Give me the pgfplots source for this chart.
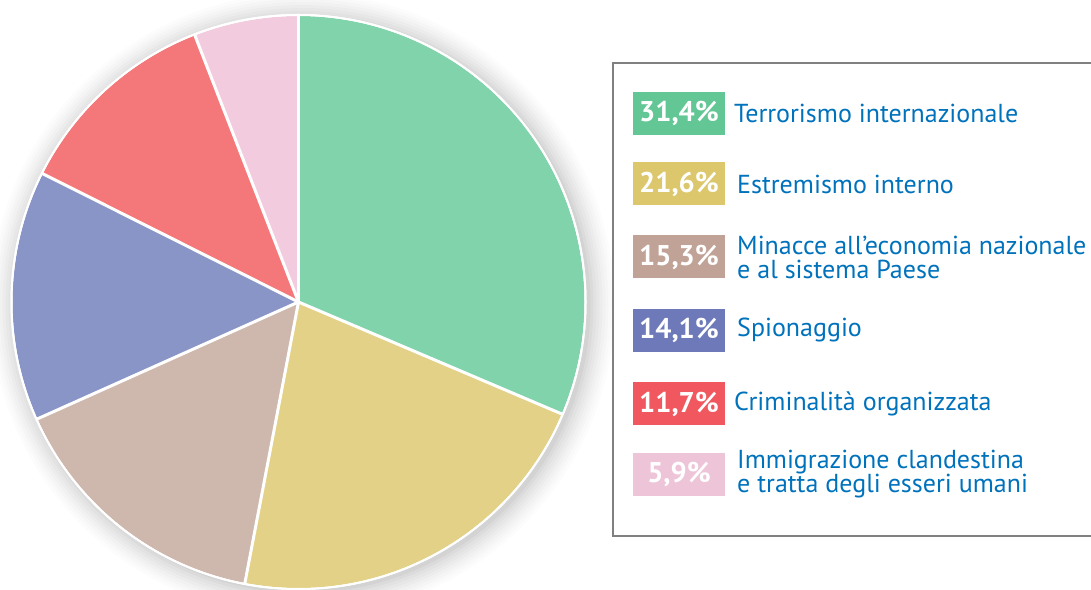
\documentclass[border=0pt]{standalone}
\usepackage{pgfplots}
\pgfplotsset{compat=1.18}
\usepackage{fontspec}
\setmainfont{PT Sans}
\definecolor{pA}{RGB}{128,211,170}
\definecolor{pB}{RGB}{226,209,134}
\definecolor{pC}{RGB}{206,183,173}
\definecolor{pD}{RGB}{137,149,198}
\definecolor{pE}{RGB}{244,120,122}
\definecolor{pF}{RGB}{242,204,222}
\definecolor{lA}{RGB}{98,199,148}
\definecolor{lB}{RGB}{220,199,108}
\definecolor{lC}{RGB}{192,162,151}
\definecolor{lD}{RGB}{109,121,184}
\definecolor{lE}{RGB}{240,87,94}
\definecolor{lF}{RGB}{238,196,216}
\definecolor{txt}{RGB}{0,114,188}
% values (%)
\def\va{31.4}\def\vb{21.6}\def\vc{15.3}\def\vd{14.1}\def\ve{11.7}\def\vf{5.9}
\pgfmathsetmacro{\aA}{90}
\pgfmathsetmacro{\aB}{90-3.6*\va}
\pgfmathsetmacro{\aC}{90-3.6*(\va+\vb)}
\pgfmathsetmacro{\aD}{90-3.6*(\va+\vb+\vc)}
\pgfmathsetmacro{\aE}{90-3.6*(\va+\vb+\vc+\vd)}
\pgfmathsetmacro{\aF}{90-3.6*(\va+\vb+\vc+\vd+\ve)}
\pgfmathsetmacro{\aG}{90-3.6*(\va+\vb+\vc+\vd+\ve+\vf)}
\begin{document}
\begin{tikzpicture}[x=1pt,y=1pt]
\useasboundingbox (0,0) rectangle (1091,589);
\clip (0,0) rectangle (1091,589);
\begin{axis}[at={(298.5pt,287pt)}, anchor=center, width=572pt, height=572pt,
  scale only axis, hide axis, xmin=-1, xmax=1, ymin=-1, ymax=1, clip=false]
\addplot[draw=none, forget plot] coordinates {(0,0)};
\fill[black, opacity=0.012] (axis cs:0,0) ++(4pt,-3pt) circle[radius=312pt];
\fill[black, opacity=0.012] (axis cs:0,0) ++(4pt,-3pt) circle[radius=309pt];
\fill[black, opacity=0.015] (axis cs:0,0) ++(4pt,-3pt) circle[radius=306pt];
\fill[black, opacity=0.015] (axis cs:0,0) ++(4pt,-3pt) circle[radius=303pt];
\fill[black, opacity=0.018] (axis cs:0,0) ++(4pt,-3pt) circle[radius=300pt];
\fill[black, opacity=0.02] (axis cs:0,0) ++(4pt,-3pt) circle[radius=297pt];
\fill[black, opacity=0.025] (axis cs:0,0) ++(4pt,-3pt) circle[radius=294pt];
\fill[black, opacity=0.03] (axis cs:0,0) ++(4pt,-3pt) circle[radius=291pt];
\fill[black, opacity=0.035] (axis cs:0,0) ++(4pt,-3pt) circle[radius=288pt];
\fill[white] (axis cs:0,0) circle[radius=288pt];
\fill[pA] (axis cs:0,0) -- ++(\aA:286pt) arc[start angle=\aA, end angle=\aB, radius=286pt] -- cycle;
\fill[pB] (axis cs:0,0) -- ++(\aB:286pt) arc[start angle=\aB, end angle=\aC, radius=286pt] -- cycle;
\fill[pC] (axis cs:0,0) -- ++(\aC:286pt) arc[start angle=\aC, end angle=\aD, radius=286pt] -- cycle;
\fill[pD] (axis cs:0,0) -- ++(\aD:286pt) arc[start angle=\aD, end angle=\aE, radius=286pt] -- cycle;
\fill[pE] (axis cs:0,0) -- ++(\aE:286pt) arc[start angle=\aE, end angle=\aF, radius=286pt] -- cycle;
\fill[pF] (axis cs:0,0) -- ++(\aF:286pt) arc[start angle=\aF, end angle=\aG, radius=286pt] -- cycle;
\draw[white, line width=3pt] (axis cs:0,0) -- ++(\aA:287pt);
\draw[white, line width=3pt] (axis cs:0,0) -- ++(\aB:287pt);
\draw[white, line width=3pt] (axis cs:0,0) -- ++(\aC:287pt);
\draw[white, line width=3pt] (axis cs:0,0) -- ++(\aD:287pt);
\draw[white, line width=3pt] (axis cs:0,0) -- ++(\aE:287pt);
\draw[white, line width=3pt] (axis cs:0,0) -- ++(\aF:287pt);
\draw[white, line width=2pt] (axis cs:0,0) circle[radius=287pt];
\end{axis}
% legend frame
\draw[black!50, line width=1.5pt] (1100,526) -- (613,526) -- (613,53) -- (1100,53);
\begin{scope}[every node/.style={inner sep=0pt}]
\newcommand\legitem[5]{%
  \fill[#2] (633,#1-21.5) rectangle (725,#1+21.5);
  \node[text=white, font=\bfseries\fontsize{28.5}{28}\selectfont] at (679,#1) {#3};
  \node[anchor=west, align=left, text=txt, font=\fontsize{26}{24}\selectfont] at (#5,#1) {#4};
}
\legitem{475.5}{lA}{31,4\%}{Terrorismo internazionale}{734}
\legitem{405}{lB}{21,6\%}{Estremismo interno}{737}
\legitem{332}{lC}{15,3\%}{Minacce all’economia nazionale\\e al sistema Paese}{737}
\legitem{258.5}{lD}{14,1\%}{Spionaggio}{737}
\legitem{185}{lE}{11,7\%}{Criminalità organizzata}{734}
\legitem{114.5}{lF}{5,9\%}{Immigrazione clandestina\\e tratta degli esseri umani}{737}
\end{scope}
\end{tikzpicture}
\end{document}
